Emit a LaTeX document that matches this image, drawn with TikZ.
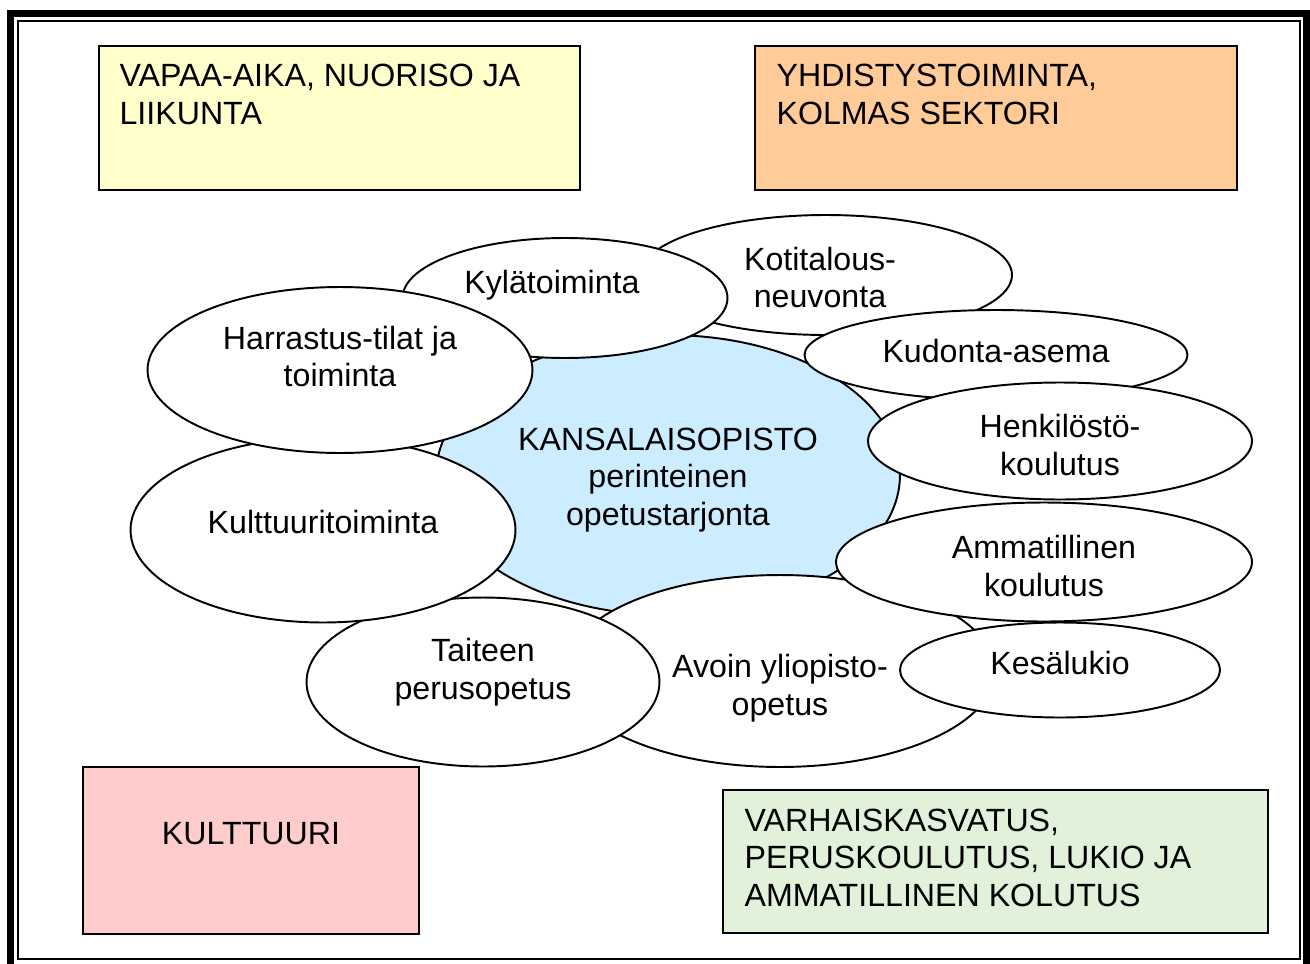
\documentclass[tikz,border=0pt]{standalone}
\usepackage{fontspec}
\setmainfont{Liberation Sans}
\usetikzlibrary{shapes.geometric}
\definecolor{kansablue}{RGB}{204,236,255}
\definecolor{vapaafill}{RGB}{255,255,204}
\definecolor{yhdistysfill}{RGB}{255,204,153}
\definecolor{kulttuurifill}{RGB}{255,204,204}
\definecolor{varhaisfill}{RGB}{226,241,218}
\tikzset{
    bubble/.style={ellipse, draw, fill=white, line width=1.1pt, inner sep=0mm},
    areabox/.style={rectangle, draw, line width=0.9pt, inner sep=0mm}
}
\tikzset{every label/.style={shape=rectangle, draw=none, fill=none, inner sep=0mm, align=center, font=\fontsize{18.3}{21.4}\selectfont}}
\begin{document}
\begin{tikzpicture}[x=0.02cm, y=-0.02cm]
        \useasboundingbox (0,0) rectangle (1310,963);
        \draw [line width=0.14cm] (10.5,13.5) rectangle (1306.5,970);
        \draw [line width=0.03cm] (18,21) rectangle (1300,959);
        \node (vapaa) [areabox, fill=vapaafill, minimum width=9.62cm, minimum height=2.88cm, label={[anchor=north west, align=left, xshift=0.42cm, yshift=-0.37cm]north west:VAPAA-AIKA, NUORISO JA\\LIIKUNTA}] at (339.5,118) {};
        \node (yhdistys) [areabox, fill=yhdistysfill, minimum width=9.64cm, minimum height=2.88cm, label={[anchor=north west, align=left, xshift=0.44cm, yshift=-0.37cm]north west:YHDISTYSTOIMINTA,\\KOLMAS SEKTORI}] at (996,118) {};
        \node (kulttuuri) [areabox, fill=kulttuurifill, minimum width=6.72cm, minimum height=3.34cm, label={[yshift=0.34cm]center:KULTTUURI}] at (251,850.5) {};
        \node (varhais) [areabox, fill=varhaisfill, minimum width=10.9cm, minimum height=2.86cm, label={[anchor=north west, align=left, xshift=0.44cm, yshift=-0.38cm]north west:VARHAISKASVATUS,\\PERUSKOULUTUS, LUKIO JA\\AMMATILLINEN KOLUTUS}] at (995.5,861.5) {};
        \node (kansalais) [bubble, fill=kansablue, minimum width=9.28cm, minimum height=5.6cm, label={[yshift=-0.1cm]center:KANSALAISOPISTO\\perinteinen\\opetustarjonta}] at (668,475) {};
        \node (kotitalous) [bubble, minimum width=7.44cm, minimum height=2.4cm, label={[xshift=-0.12cm, yshift=-0.05cm]center:Kotitalous-\\neuvonta}] at (826,275) {};
        \node (kyla) [bubble, minimum width=6.5cm, minimum height=2.4cm, label={[xshift=-0.26cm, yshift=0.25cm]center:Kylätoiminta}] at (565,298) {};
        \node (kudonta) [bubble, minimum width=7.66cm, minimum height=1.8cm, label={[yshift=0.08cm]center:Kudonta-asema}] at (996,355) {};
        \node (henkilosto) [bubble, minimum width=7.68cm, minimum height=2.34cm, label={[yshift=-0.08cm]center:Henkilöstö-\\koulutus}] at (1060,441) {};
        \node (avoin) [bubble, minimum width=8.6cm, minimum height=3.84cm, label={[yshift=-0.34cm]center:Avoin yliopisto-\\opetus}] at (780,671) {};
        \node (ammatillinen) [bubble, minimum width=8.32cm, minimum height=2.38cm, label={[yshift=-0.08cm]center:Ammatillinen\\koulutus}] at (1044,562) {};
        \node (kesalukio) [bubble, minimum width=6.4cm, minimum height=1.9cm, label={[yshift=0.14cm]center:Kesälukio}] at (1060,670) {};
        \node (taiteen) [bubble, minimum width=7.06cm, minimum height=3.38cm, label={[yshift=0.2cm]center:Taiteen\\perusopetus}] at (483,682) {};
        \node (kulttuuritoim) [bubble, minimum width=7.7cm, minimum height=3.7cm, label={[yshift=0.16cm]center:Kulttuuritoiminta}] at (323,530) {};
        \node (harrastus) [bubble, minimum width=7.7cm, minimum height=3.32cm, label={[yshift=0.27cm]center:Harrastus-tilat ja\\toiminta}] at (340,370) {};
\end{tikzpicture}
\end{document}
